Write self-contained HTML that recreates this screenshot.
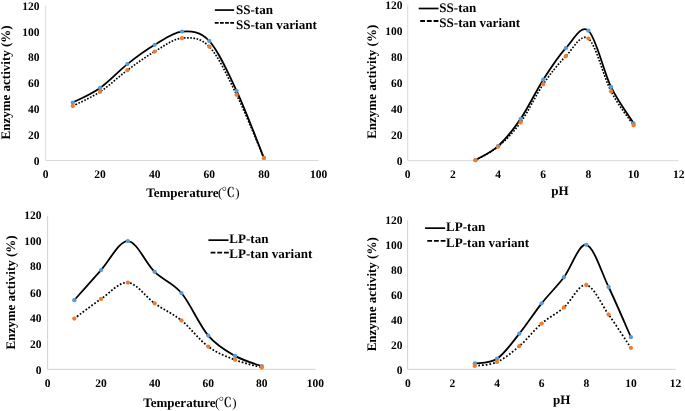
<!DOCTYPE html>
<html><head><meta charset="utf-8"><title>Enzyme activity</title>
<style>html,body{margin:0;padding:0;background:#fff;}svg{display:block;}text{text-rendering:geometricPrecision;}</style></head>
<body><svg width="685" height="411" viewBox="0 0 685 411" font-family="'Liberation Serif','Noto Serif CJK SC',serif" font-weight="bold" fill="#000">
<rect width="685" height="411" fill="#fff"/>
<path d="M45.70 6.10V160.55H318.80" fill="none" stroke="#D9D9D9" stroke-width="1"/>
<text x="39.40" y="165" text-anchor="end" font-size="11.5">0</text>
<text x="39.40" y="139" text-anchor="end" font-size="11.5">20</text>
<text x="39.40" y="113" text-anchor="end" font-size="11.5">40</text>
<text x="39.40" y="87" text-anchor="end" font-size="11.5">60</text>
<text x="39.40" y="61" text-anchor="end" font-size="11.5">80</text>
<text x="39.40" y="36" text-anchor="end" font-size="11.5">100</text>
<text x="39.40" y="10" text-anchor="end" font-size="11.5">120</text>
<text x="45.50" y="178" text-anchor="middle" font-size="11.5">0</text>
<text x="100.10" y="178" text-anchor="middle" font-size="11.5">20</text>
<text x="154.70" y="178" text-anchor="middle" font-size="11.5">40</text>
<text x="209.30" y="178" text-anchor="middle" font-size="11.5">60</text>
<text x="263.90" y="178" text-anchor="middle" font-size="11.5">80</text>
<text x="318.50" y="178" text-anchor="middle" font-size="11.5">100</text>
<text transform="translate(9.60 82.40) rotate(-90)" text-anchor="middle" font-size="13">Enzyme activity (%)</text>
<text y="197" font-size="13"><tspan x="146.30">Temperature</tspan><tspan x="217.90" font-weight="normal">(</tspan><tspan x="221.60" font-weight="600" font-size="13.4" font-family="'Liberation Serif','Noto Serif CJK SC',serif">℃</tspan><tspan x="235.20" font-weight="normal">)</tspan></text>
<path d="M72.80 106.02C77.35 103.64 91.00 97.73 100.10 91.75C109.20 85.78 118.30 76.87 127.40 70.16C136.50 63.46 145.60 56.86 154.70 51.53C163.80 46.20 172.90 38.98 182.00 38.17C191.10 37.35 200.20 37.20 209.30 46.65C218.40 56.09 227.50 76.29 236.60 94.84C245.70 113.38 259.35 147.41 263.90 157.93" fill="none" stroke="#000" stroke-width="1.65" stroke-dasharray="1.65 1.55"/>
<path d="M72.80 102.55C77.35 100.11 91.00 94.30 100.10 87.90C109.20 81.49 118.30 71.30 127.40 64.12C136.50 56.95 145.60 50.27 154.70 44.85C163.80 39.43 172.90 32.26 182.00 31.61C191.10 30.97 200.20 31.12 209.30 41.00C218.40 50.87 227.50 71.36 236.60 90.85C245.70 110.34 259.35 146.75 263.90 157.93" fill="none" stroke="#000" stroke-width="1.8" stroke-linecap="round"/>
<circle cx="72.80" cy="102.55" r="2.15" fill="#5B9BD5"/>
<circle cx="100.10" cy="87.90" r="2.15" fill="#5B9BD5"/>
<circle cx="127.40" cy="64.12" r="2.15" fill="#5B9BD5"/>
<circle cx="154.70" cy="44.85" r="2.15" fill="#5B9BD5"/>
<circle cx="182.00" cy="31.61" r="2.15" fill="#5B9BD5"/>
<circle cx="209.30" cy="41.00" r="2.15" fill="#5B9BD5"/>
<circle cx="236.60" cy="90.85" r="2.15" fill="#5B9BD5"/>
<circle cx="263.90" cy="157.93" r="2.15" fill="#5B9BD5"/>
<circle cx="72.80" cy="106.02" r="2.15" fill="#ED7D31"/>
<circle cx="100.10" cy="91.75" r="2.15" fill="#ED7D31"/>
<circle cx="127.40" cy="70.16" r="2.15" fill="#ED7D31"/>
<circle cx="154.70" cy="51.53" r="2.15" fill="#ED7D31"/>
<circle cx="182.00" cy="38.17" r="2.15" fill="#ED7D31"/>
<circle cx="209.30" cy="46.65" r="2.15" fill="#ED7D31"/>
<circle cx="236.60" cy="94.84" r="2.15" fill="#ED7D31"/>
<circle cx="263.90" cy="157.93" r="2.15" fill="#ED7D31"/>
<path d="M214.80 10.07H234.10" stroke="#000" stroke-width="1.7"/>
<path d="M214.80 22.90H234.10" stroke="#000" stroke-width="1.8" stroke-dasharray="3.8 1.35"/>
<text x="236.00" y="14" font-size="13.05">SS-tan</text>
<text x="236.00" y="29" font-size="13.05">SS-tan variant</text>
<path d="M407.70 4.50V160.65H678.80" fill="none" stroke="#D9D9D9" stroke-width="1"/>
<text x="402.40" y="165" text-anchor="end" font-size="11.5">0</text>
<text x="402.40" y="139" text-anchor="end" font-size="11.5">20</text>
<text x="402.40" y="113" text-anchor="end" font-size="11.5">40</text>
<text x="402.40" y="87" text-anchor="end" font-size="11.5">60</text>
<text x="402.40" y="61" text-anchor="end" font-size="11.5">80</text>
<text x="402.40" y="35" text-anchor="end" font-size="11.5">100</text>
<text x="402.40" y="9" text-anchor="end" font-size="11.5">120</text>
<text x="407.70" y="178" text-anchor="middle" font-size="11.5">0</text>
<text x="452.88" y="178" text-anchor="middle" font-size="11.5">2</text>
<text x="498.06" y="178" text-anchor="middle" font-size="11.5">4</text>
<text x="543.24" y="178" text-anchor="middle" font-size="11.5">6</text>
<text x="588.42" y="178" text-anchor="middle" font-size="11.5">8</text>
<text x="633.60" y="178" text-anchor="middle" font-size="11.5">10</text>
<text x="678.78" y="178" text-anchor="middle" font-size="11.5">12</text>
<text transform="translate(376.00 81.80) rotate(-90)" text-anchor="middle" font-size="13">Enzyme activity (%)</text>
<text x="559.90" y="195" text-anchor="middle" font-size="13">pH</text>
<path d="M475.47 160.14C479.23 157.89 490.53 152.94 498.06 146.65C505.59 140.35 513.12 132.78 520.65 122.38C528.18 111.98 535.71 95.27 543.24 84.24C550.77 73.21 558.30 63.82 565.83 56.21C573.36 48.60 580.89 32.73 588.42 38.56C595.95 44.40 603.48 76.78 611.01 91.24C618.54 105.71 629.84 119.68 633.60 125.37" fill="none" stroke="#000" stroke-width="1.65" stroke-dasharray="1.65 1.55"/>
<path d="M475.47 160.14C479.23 157.81 490.53 153.00 498.06 146.13C505.59 139.25 513.12 129.95 520.65 118.88C528.18 107.81 535.71 91.48 543.24 79.70C550.77 67.91 558.30 56.34 565.83 48.17C573.36 39.99 580.89 24.18 588.42 30.65C595.95 37.12 603.48 71.52 611.01 86.96C618.54 102.40 629.84 117.24 633.60 123.29" fill="none" stroke="#000" stroke-width="1.8" stroke-linecap="round"/>
<circle cx="475.47" cy="160.14" r="2.15" fill="#5B9BD5"/>
<circle cx="498.06" cy="146.13" r="2.15" fill="#5B9BD5"/>
<circle cx="520.65" cy="118.88" r="2.15" fill="#5B9BD5"/>
<circle cx="543.24" cy="79.70" r="2.15" fill="#5B9BD5"/>
<circle cx="565.83" cy="48.17" r="2.15" fill="#5B9BD5"/>
<circle cx="588.42" cy="30.65" r="2.15" fill="#5B9BD5"/>
<circle cx="611.01" cy="86.96" r="2.15" fill="#5B9BD5"/>
<circle cx="633.60" cy="123.29" r="2.15" fill="#5B9BD5"/>
<circle cx="475.47" cy="160.14" r="2.15" fill="#ED7D31"/>
<circle cx="498.06" cy="146.65" r="2.15" fill="#ED7D31"/>
<circle cx="520.65" cy="122.38" r="2.15" fill="#ED7D31"/>
<circle cx="543.24" cy="84.24" r="2.15" fill="#ED7D31"/>
<circle cx="565.83" cy="56.21" r="2.15" fill="#ED7D31"/>
<circle cx="588.42" cy="38.56" r="2.15" fill="#ED7D31"/>
<circle cx="611.01" cy="91.24" r="2.15" fill="#ED7D31"/>
<circle cx="633.60" cy="125.37" r="2.15" fill="#ED7D31"/>
<path d="M418.70 8.50H438.50" stroke="#000" stroke-width="1.7"/>
<path d="M420.20 21.00H439.00" stroke="#000" stroke-width="1.8" stroke-dasharray="4.8 1.9"/>
<text x="439.30" y="12" font-size="13.05">SS-tan</text>
<text x="439.30" y="27" font-size="13.05">SS-tan variant</text>
<path d="M47.60 216.00V369.35H315.50" fill="none" stroke="#D2D2D2" stroke-width="1"/>
<text x="41.40" y="374" text-anchor="end" font-size="11.5">0</text>
<text x="41.40" y="348" text-anchor="end" font-size="11.5">20</text>
<text x="41.40" y="322" text-anchor="end" font-size="11.5">40</text>
<text x="41.40" y="297" text-anchor="end" font-size="11.5">60</text>
<text x="41.40" y="270" text-anchor="end" font-size="11.5">80</text>
<text x="41.40" y="245" text-anchor="end" font-size="11.5">100</text>
<text x="41.40" y="219" text-anchor="end" font-size="11.5">120</text>
<text x="47.50" y="387" text-anchor="middle" font-size="11.5">0</text>
<text x="101.08" y="387" text-anchor="middle" font-size="11.5">20</text>
<text x="154.66" y="387" text-anchor="middle" font-size="11.5">40</text>
<text x="208.24" y="387" text-anchor="middle" font-size="11.5">60</text>
<text x="261.82" y="387" text-anchor="middle" font-size="11.5">80</text>
<text x="315.40" y="387" text-anchor="middle" font-size="11.5">100</text>
<text transform="translate(15.00 292.40) rotate(-90)" text-anchor="middle" font-size="13">Enzyme activity (%)</text>
<text y="407" font-size="13"><tspan x="143.30">Temperature</tspan><tspan x="214.90" font-weight="normal">(</tspan><tspan x="218.60" font-weight="600" font-size="13.4" font-family="'Liberation Serif','Noto Serif CJK SC',serif">℃</tspan><tspan x="232.20" font-weight="normal">)</tspan></text>
<path d="M74.29 318.59C78.75 315.32 92.15 304.93 101.08 298.92C110.01 292.92 118.94 281.82 127.87 282.57C136.80 283.31 145.73 297.07 154.66 303.39C163.59 309.72 172.52 313.31 181.45 320.51C190.38 327.71 199.31 340.01 208.24 346.57C217.17 353.13 226.10 356.37 235.03 359.86C243.96 363.35 257.36 366.25 261.82 367.52" fill="none" stroke="#000" stroke-width="1.75" stroke-dasharray="1.75 1.8"/>
<path d="M74.29 300.20C78.75 295.17 92.15 279.91 101.08 270.05C110.01 260.19 118.94 240.73 127.87 241.05C136.80 241.37 145.73 263.30 154.66 271.97C163.59 280.63 172.52 282.44 181.45 293.04C190.38 303.65 199.31 325.11 208.24 335.59C217.17 346.06 226.10 350.79 235.03 355.90C243.96 361.01 257.36 364.52 261.82 366.25" fill="none" stroke="#000" stroke-width="1.8" stroke-linecap="round"/>
<circle cx="74.29" cy="300.20" r="2.15" fill="#5B9BD5"/>
<circle cx="101.08" cy="270.05" r="2.15" fill="#5B9BD5"/>
<circle cx="127.87" cy="241.05" r="2.15" fill="#5B9BD5"/>
<circle cx="154.66" cy="271.97" r="2.15" fill="#5B9BD5"/>
<circle cx="181.45" cy="293.04" r="2.15" fill="#5B9BD5"/>
<circle cx="208.24" cy="335.59" r="2.15" fill="#5B9BD5"/>
<circle cx="235.03" cy="355.90" r="2.15" fill="#5B9BD5"/>
<circle cx="261.82" cy="366.25" r="2.15" fill="#5B9BD5"/>
<circle cx="74.29" cy="318.59" r="2.15" fill="#ED7D31"/>
<circle cx="101.08" cy="298.92" r="2.15" fill="#ED7D31"/>
<circle cx="127.87" cy="282.57" r="2.15" fill="#ED7D31"/>
<circle cx="154.66" cy="303.39" r="2.15" fill="#ED7D31"/>
<circle cx="181.45" cy="320.51" r="2.15" fill="#ED7D31"/>
<circle cx="208.24" cy="346.57" r="2.15" fill="#ED7D31"/>
<circle cx="235.03" cy="359.86" r="2.15" fill="#ED7D31"/>
<circle cx="261.82" cy="367.52" r="2.15" fill="#ED7D31"/>
<path d="M208.40 240.15H228.50" stroke="#000" stroke-width="1.7"/>
<path d="M210.60 252.60H229.50" stroke="#000" stroke-width="1.8" stroke-dasharray="4.8 1.9"/>
<text x="229.30" y="243" font-size="13.05">LP-tan</text>
<text x="229.30" y="258" font-size="13.05">LP-tan variant</text>
<path d="M407.60 219.80V369.35H675.90" fill="none" stroke="#D2D2D2" stroke-width="1"/>
<text x="402.40" y="374" text-anchor="end" font-size="11.5">0</text>
<text x="402.40" y="349" text-anchor="end" font-size="11.5">20</text>
<text x="402.40" y="324" text-anchor="end" font-size="11.5">40</text>
<text x="402.40" y="299" text-anchor="end" font-size="11.5">60</text>
<text x="402.40" y="274" text-anchor="end" font-size="11.5">80</text>
<text x="402.40" y="249" text-anchor="end" font-size="11.5">100</text>
<text x="402.40" y="224" text-anchor="end" font-size="11.5">120</text>
<text x="407.80" y="387" text-anchor="middle" font-size="11.5">0</text>
<text x="452.42" y="387" text-anchor="middle" font-size="11.5">2</text>
<text x="497.04" y="387" text-anchor="middle" font-size="11.5">4</text>
<text x="541.66" y="387" text-anchor="middle" font-size="11.5">6</text>
<text x="586.28" y="387" text-anchor="middle" font-size="11.5">8</text>
<text x="630.90" y="387" text-anchor="middle" font-size="11.5">10</text>
<text x="675.52" y="387" text-anchor="middle" font-size="11.5">12</text>
<text transform="translate(376.00 294.30) rotate(-90)" text-anchor="middle" font-size="13">Enzyme activity (%)</text>
<text x="561.60" y="404" text-anchor="middle" font-size="13">pH</text>
<path d="M474.73 365.96C478.45 365.29 489.60 365.27 497.04 361.96C504.48 358.66 511.91 352.53 519.35 346.12C526.79 339.72 534.22 329.99 541.66 323.54C549.10 317.10 556.53 313.87 563.97 307.45C571.41 301.02 578.84 283.81 586.28 284.99C593.72 286.18 601.15 304.08 608.59 314.56C616.03 325.04 627.18 342.32 630.90 347.87" fill="none" stroke="#000" stroke-width="1.75" stroke-dasharray="1.75 1.95"/>
<path d="M474.73 363.46C478.45 362.67 489.60 363.69 497.04 358.72C504.48 353.75 511.91 342.88 519.35 333.65C526.79 324.41 534.22 312.73 541.66 303.33C549.10 293.93 556.53 287.01 563.97 277.26C571.41 267.51 578.84 243.20 586.28 244.82C593.72 246.45 601.15 271.60 608.59 286.99C616.03 302.38 627.18 328.78 630.90 337.14" fill="none" stroke="#000" stroke-width="1.8" stroke-linecap="round"/>
<circle cx="474.73" cy="363.46" r="2.15" fill="#5B9BD5"/>
<circle cx="497.04" cy="358.72" r="2.15" fill="#5B9BD5"/>
<circle cx="519.35" cy="333.65" r="2.15" fill="#5B9BD5"/>
<circle cx="541.66" cy="303.33" r="2.15" fill="#5B9BD5"/>
<circle cx="563.97" cy="277.26" r="2.15" fill="#5B9BD5"/>
<circle cx="586.28" cy="244.82" r="2.15" fill="#5B9BD5"/>
<circle cx="608.59" cy="286.99" r="2.15" fill="#5B9BD5"/>
<circle cx="630.90" cy="337.14" r="2.15" fill="#5B9BD5"/>
<circle cx="474.73" cy="365.96" r="2.15" fill="#ED7D31"/>
<circle cx="497.04" cy="361.96" r="2.15" fill="#ED7D31"/>
<circle cx="519.35" cy="346.12" r="2.15" fill="#ED7D31"/>
<circle cx="541.66" cy="323.54" r="2.15" fill="#ED7D31"/>
<circle cx="563.97" cy="307.45" r="2.15" fill="#ED7D31"/>
<circle cx="586.28" cy="284.99" r="2.15" fill="#ED7D31"/>
<circle cx="608.59" cy="314.56" r="2.15" fill="#ED7D31"/>
<circle cx="630.90" cy="347.87" r="2.15" fill="#ED7D31"/>
<path d="M425.10 228.15H445.20" stroke="#000" stroke-width="1.7"/>
<path d="M427.30 240.80H446.30" stroke="#000" stroke-width="1.8" stroke-dasharray="4.8 1.9"/>
<text x="446.10" y="231" font-size="13.05">LP-tan</text>
<text x="446.10" y="247" font-size="13.05">LP-tan variant</text>
</svg></body></html>
